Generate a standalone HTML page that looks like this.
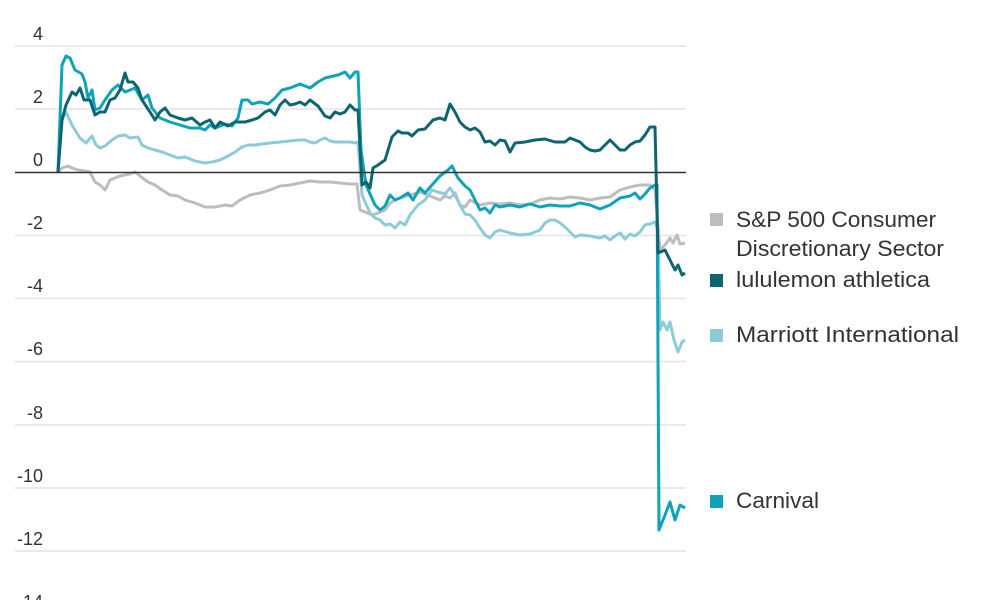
<!DOCTYPE html>
<html><head><meta charset="utf-8"><style>
body{margin:0;background:#fff;}
svg{display:block;font-family:"Liberation Sans",sans-serif;}
</style></head><body>
<svg width="1000" height="600" viewBox="0 0 1000 600">
<g stroke="#e3e3e3" stroke-width="1.5">
<line x1="15" x2="686" y1="46" y2="46"/><line x1="15" x2="686" y1="109" y2="109"/>
<line x1="15" x2="686" y1="235.5" y2="235.5"/><line x1="15" x2="686" y1="298.5" y2="298.5"/>
<line x1="15" x2="686" y1="361.5" y2="361.5"/><line x1="15" x2="686" y1="425" y2="425"/>
<line x1="15" x2="686" y1="488" y2="488"/><line x1="15" x2="686" y1="551" y2="551"/>
</g>
<g fill="#333" font-size="18" text-anchor="end">
<text x="43" y="40">4</text><text x="43" y="103">2</text><text x="43" y="166">0</text>
<text x="43" y="229">-2</text><text x="43" y="292">-4</text><text x="43" y="355">-6</text>
<text x="43" y="419">-8</text><text x="43" y="482">-10</text><text x="43" y="545">-12</text><text x="43" y="608">-14</text>
</g>
<g fill="none" stroke-width="3" stroke-linejoin="round">
<polyline stroke="#bdbdbd" points="58,172 62,168 68,166 72,168 78,170 85,171 90,172 95,182 100,185 105,190 110,180 115,178 120,176 125,175 130,174 135,172 140,176 148,182 155,185 162,190 170,195 178,196 185,200 195,203 205,207 215,207 225,205 232,206 240,200 250,195 260,193 270,190 280,186 290,185 300,183 310,181 320,182 330,182 340,183 350,184 357,184 360,210 365,212 372,215 378,213 385,210 390,203 395,200 400,198 410,195 420,192 430,196 440,200 445,196 450,198 455,193 460,205 465,207 470,200 480,205 490,203 500,204 510,203 520,205 530,204 540,200 550,198 560,199 570,197 580,198 590,200 600,198 610,197 620,190 630,187 640,185 650,185 655,190 660,250 665,245 670,238 673,243 677,235 680,244 685,243"/>
<polyline stroke="#8ccbd8" points="58,172 62,120 66,112 72,125 80,138 86,143 92,136 96,145 100,148 105,146 112,140 118,136 125,135 130,138 138,137 142,145 148,148 155,150 162,152 170,155 178,158 185,157 195,161 205,163 212,162 220,160 228,156 235,152 242,147 248,145 255,145 262,144 270,143 280,142 290,141 300,140 305,140 310,142 315,143 320,140 325,138 330,141 335,142 350,142 355,143 358,142 362,195 370,213 375,218 380,220 385,225 390,224 395,228 400,222 405,225 410,215 418,205 425,200 432,190 438,192 445,194 450,188 455,195 460,205 465,214 470,215 475,220 480,228 485,235 490,238 495,232 500,230 510,233 520,235 530,234 540,230 545,223 550,220 555,220 560,223 565,227 570,232 575,237 580,235 590,236 600,238 605,236 610,240 615,236 620,233 625,239 630,234 635,236 640,232 645,225 650,224 655,222 658,230 660,330 663,322 667,330 670,322 674,340 678,352 682,342 685,340"/>
<polyline stroke="#0fa3b9" points="58,172 62,65 66,56 70,58 75,70 82,74 85,82 88,98 92,90 95,110 100,108 105,100 112,90 118,85 125,92 135,88 142,100 148,95 152,108 160,118 170,122 180,125 190,128 200,128 205,130 210,125 215,128 225,124 232,126 238,118 242,100 248,100 252,104 260,102 268,104 275,98 282,90 290,88 300,84 310,88 318,82 325,78 338,75 345,72 350,78 355,72 358,72 361,150 366,185 375,205 380,210 385,206 390,195 395,200 400,198 408,193 413,200 420,188 425,193 432,185 440,176 448,170 452,166 458,178 465,186 470,190 475,200 480,210 485,208 490,213 495,205 500,207 510,205 520,207 530,204 540,207 550,205 560,206 570,206 580,203 590,205 600,209 610,205 620,198 630,196 635,193 640,199 645,194 650,188 655,185 657,185 659,530 665,515 670,502 675,520 680,505 685,508"/>
<polyline stroke="#0e6571" points="58,172 62,120 66,105 72,92 76,95 80,88 84,100 90,100 95,115 100,112 105,112 110,100 115,98 120,90 125,73 128,82 133,82 138,88 142,100 150,112 155,120 160,112 165,108 170,115 178,118 185,120 192,118 200,125 205,122 210,120 215,128 220,122 228,126 235,122 245,122 252,120 258,118 265,112 270,110 275,115 280,105 285,100 290,105 295,104 300,102 305,105 310,100 318,106 325,116 330,118 335,112 340,114 345,112 350,105 355,110 358,110 362,185 366,182 370,188 373,168 378,165 385,160 392,137 398,131 402,133 408,133 412,136 418,130 425,129 433,120 440,118 445,120 450,104 455,112 460,122 465,127 470,130 475,128 480,132 485,142 490,141 495,145 500,140 505,141 510,152 515,143 525,142 535,140 545,139 555,142 565,142 570,138 575,140 580,142 585,147 590,150 595,151 600,150 605,145 610,140 615,145 620,150 625,150 630,145 635,142 640,141 645,135 650,127 655,127 658,253 665,250 670,260 675,270 678,265 682,275 685,273"/>
</g>
<line x1="15" x2="686" y1="172.5" y2="172.5" stroke="#333" stroke-width="1.5"/>
<g font-size="22" fill="#333">
<rect x="710" y="213" width="13" height="13" fill="#bdbdbd"/>
<text x="736" y="227" textLength="200" lengthAdjust="spacingAndGlyphs">S&amp;P 500 Consumer</text>
<text x="736" y="256" textLength="208" lengthAdjust="spacingAndGlyphs">Discretionary Sector</text>
<rect x="710" y="274" width="13" height="13" fill="#0e6571"/>
<text x="736" y="287" textLength="194" lengthAdjust="spacingAndGlyphs">lululemon athletica</text>
<rect x="710" y="329" width="13" height="13" fill="#8ccbd8"/>
<text x="736" y="342" textLength="223" lengthAdjust="spacingAndGlyphs">Marriott International</text>
<rect x="710" y="495" width="13" height="13" fill="#0fa3b9"/>
<text x="736" y="508" textLength="83" lengthAdjust="spacingAndGlyphs">Carnival</text>
</g>
</svg>
</body></html>
